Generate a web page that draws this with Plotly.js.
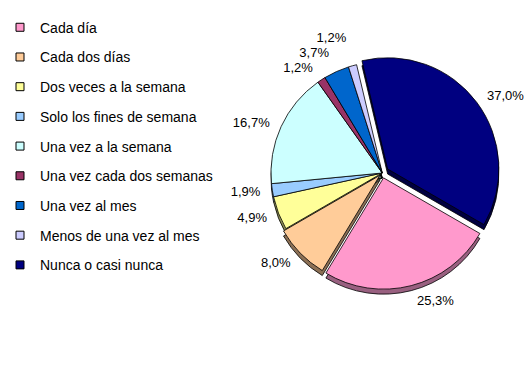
<!DOCTYPE html>
<html>
<head>
<meta charset="utf-8">
<script src="https://cdn.plot.ly/plotly-3.0.1.min.js"></script>
<style>html,body{margin:0;padding:0;background:#fff;}#chart{width:530px;height:365px;}path.textline{stroke-opacity:0 !important;}</style>
</head>
<body>
<div id="chart"></div>
<script>
const categories = ["Cada día","Cada dos días","Dos veces a la semana","Solo los fines de semana","Una vez a la semana","Una vez cada dos semanas","Una vez al mes","Menos de una vez al mes","Nunca o casi nunca"];
const percentages = [25.3, 8.0, 4.9, 1.9, 16.7, 1.2, 3.7, 1.2, 37.0];
const colors = ["#FF99CC","#FFCC99","#FFFF99","#99CCFF","#CCFFFF","#993366","#0066CC","#CCCCFF","#000080"];
const shadowColors = ["#996080","#8C7055","#8C8C55","#55708C","#708C8C","#551C38","#003870","#70708C","#000040"];
const pulls = [0.045, 0.03, 0, 0, 0, 0, 0, 0, 0.06];

const W = 530, H = 365;
const cx = 380, cy = 173, r = 113;
const depth = 5, labelGap = 8;

function dom(radius, pullArr, dy){
  const half = radius * (1 + Math.max.apply(null, pullArr));
  return {x:[(cx-half)/W,(cx+half)/W], y:[(H-cy-dy-half)/H,(H-cy-dy+half)/H]};
}
const rL = r + labelGap;
const pullsL = pulls.map(p => p * r / rL);

const font = {family:"Arial, 'Liberation Sans', sans-serif", size:13, color:"#000"};
const legendFont = {family:"Arial, 'Liberation Sans', sans-serif", size:14, color:"#000"};

const base = {type:"pie", labels:categories, values:percentages, sort:false,
  direction:"clockwise", rotation:120, hoverinfo:"skip", showlegend:false};

const shadow = Object.assign({}, base, {
  pull:pulls, domain:dom(r, pulls, depth), textinfo:"none",
  marker:{colors:shadowColors, line:{color:"#000", width:0.8}}
});
const pie = Object.assign({}, base, {
  pull:pulls, domain:dom(r, pulls, 0), textinfo:"none",
  marker:{colors:colors, line:{color:"#000", width:0.8}}
});
const labelsPie = Object.assign({}, base, {
  pull:pullsL, domain:dom(rL, pullsL, 0),
  texttemplate:"%{value:.1f}%", textposition:"outside", outsidetextfont:font,
  marker:{colors:categories.map(()=>"rgba(0,0,0,0)"), line:{width:0}}
});
const legendTraces = categories.map((c,i)=>({
  type:"scatter", mode:"markers", x:[null], y:[null], name:c, legendgroup:"g"+i,
  marker:{symbol:"square", size:8, color:colors[i], line:{color:"#000", width:1}},
  hoverinfo:"skip"
}));

const layout = {
  width:W, height:H, margin:{l:0,r:0,t:0,b:0},
  paper_bgcolor:"#fff", plot_bgcolor:"#fff", separators:",.",
  font:font,
  xaxis:{visible:false}, yaxis:{visible:false},
  showlegend:true,
  legend:{x:-0.016, xanchor:"left", y:0.968, yanchor:"top", traceorder:"grouped",
          tracegroupgap:8.5, font:legendFont, bgcolor:"rgba(0,0,0,0)"}
};
Plotly.newPlot("chart", [shadow, pie, labelsPie].concat(legendTraces), layout, {displayModeBar:false, staticPlot:true});
</script>
</body>
</html>
